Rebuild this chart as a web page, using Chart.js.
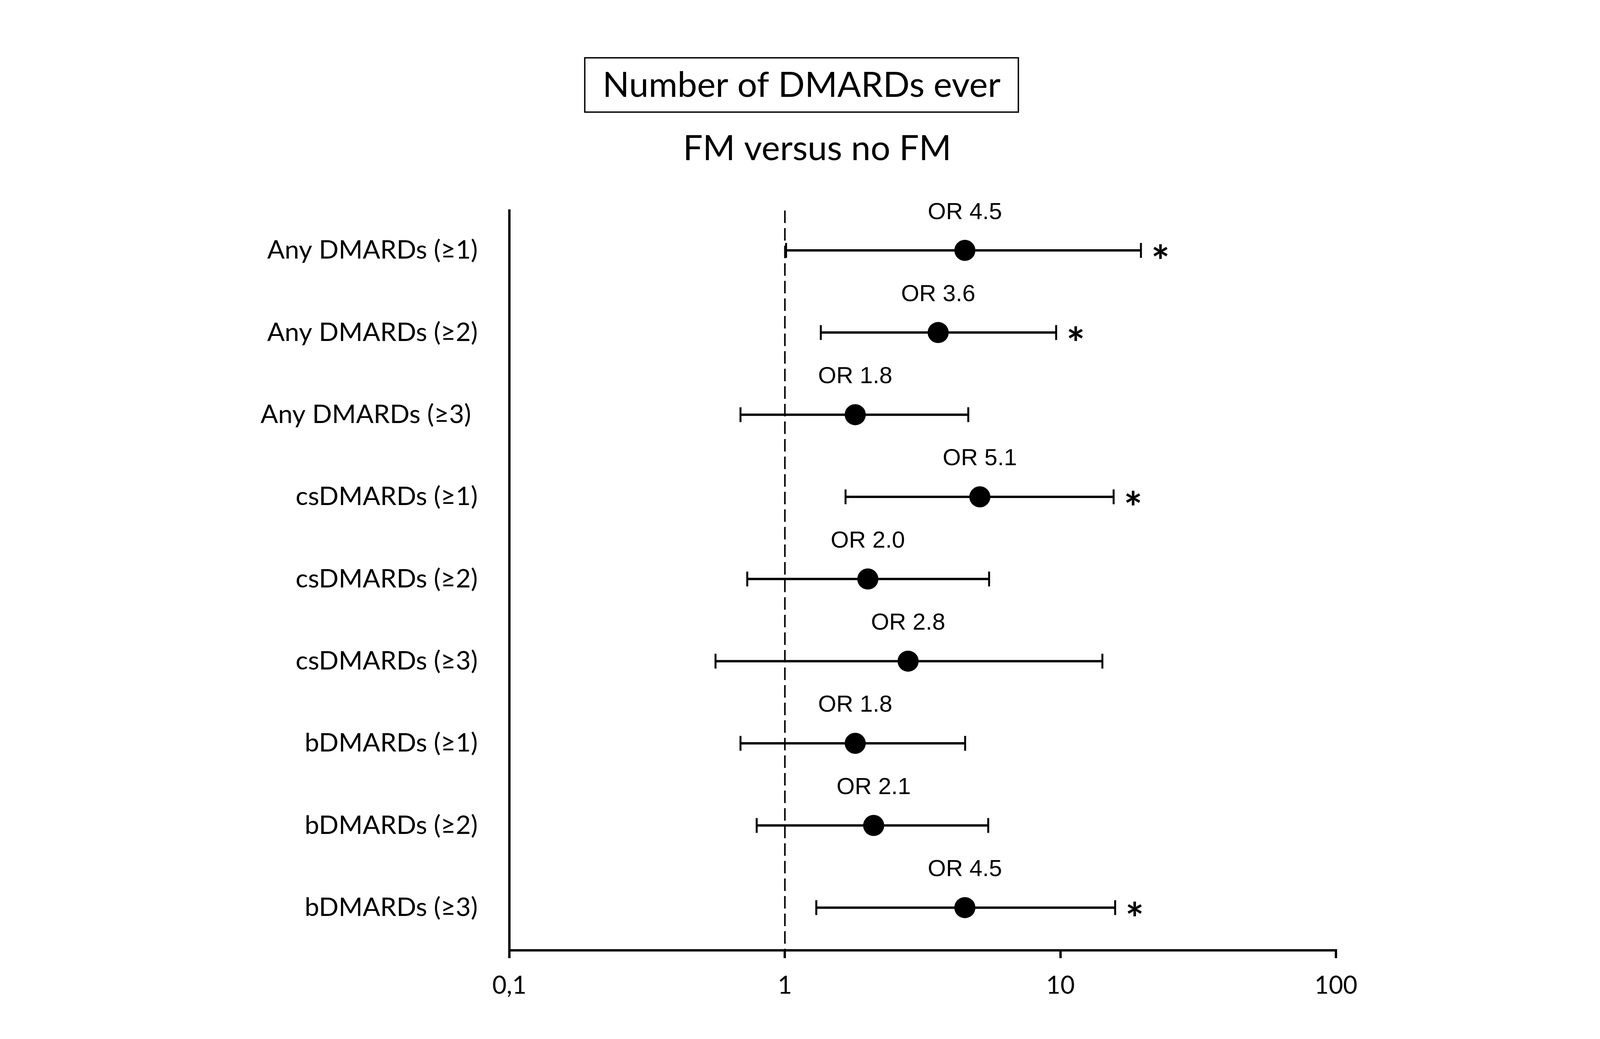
<!DOCTYPE html>
<html><head><meta charset="utf-8">
<script src="https://cdn.jsdelivr.net/npm/chart.js@4"></script>
<style>html,body{margin:0;padding:0;background:#fff;} #wrap{width:4208px;height:2660px;}</style>
</head><body><div id="wrap"><canvas id="c" width="4208" height="2660"></canvas></div>
<script>
const categories = ['Any DMARDs (≥1)','Any DMARDs (≥2)','Any DMARDs (≥3) ','csDMARDs (≥1)','csDMARDs (≥2)','csDMARDs (≥3)','bDMARDs (≥1)','bDMARDs (≥2)','bDMARDs (≥3)'];
const oddsRatio = [4.5, 3.6, 1.8, 5.1, 2.0, 2.8, 1.8, 2.1, 4.5];
const ciLower = [1.01, 1.35, 0.69, 1.66, 0.73, 0.56, 0.69, 0.79, 1.30];
const ciUpper = [19.6, 9.65, 4.63, 15.6, 5.51, 14.2, 4.51, 5.47, 15.8];
const significant = [true, true, false, true, false, false, false, false, true];
const xTicks = [0.1, 1, 10, 100];
const xTickLabels = ['0,1', '1', '10', '100'];
const referenceValue = 1;
const titleText = 'Number of DMARDs ever';
const subtitleText = 'FM versus no FM';

const SANS = 'Lato';
const mctx = document.createElement('canvas').getContext('2d');
function fitSize(text, family, target){ mctx.font = '100px ' + family; return 100 * target / mctx.measureText(text).width; }
const catSize = fitSize('Any DMARDs (≥1)', SANS, 539);
const tickSize = fitSize('100', SANS, 110);
const titleSize = fitSize(titleText, SANS, 1019);
const subSize = fitSize(subtitleText, SANS, 687);
const orSize = 60;

const yMin = 0.515, yMax = 9.52;
const datasets = [];
datasets.push({
  type: 'line', data: [{x: referenceValue, y: yMin}, {x: referenceValue, y: yMax}],
  borderColor: '#000', borderWidth: 4, borderDash: [32, 13], pointRadius: 0, order: 3
});
categories.forEach((c, i) => {
  datasets.push({
    type: 'line', data: [{x: ciLower[i], y: i + 1}, {x: ciUpper[i], y: i + 1}],
    borderColor: '#000', borderWidth: 6, pointStyle: 'line', pointRotation: 90,
    pointRadius: 19, pointBorderWidth: 5, pointBorderColor: '#000', pointBackgroundColor: '#000', order: 2
  });
});
datasets.push({
  type: 'scatter', data: oddsRatio.map((v, i) => ({x: v, y: i + 1})),
  pointRadius: 27, backgroundColor: '#000', borderColor: '#000', borderWidth: 0, order: 1
});

function drawCentered(ctx, text, x, cy){
  const m = ctx.measureText(text);
  ctx.fillText(text, x, cy + (m.actualBoundingBoxAscent - m.actualBoundingBoxDescent) / 2);
}

const annot = {
  id: 'annot',
  afterDatasetsDraw(chart){
    const {ctx, scales: {x, y}} = chart;
    ctx.save();
    ctx.fillStyle = '#000';
    ctx.textAlign = 'center';
    ctx.textBaseline = 'alphabetic';
    oddsRatio.forEach((v, i) => {
      const px = x.getPixelForValue(v), py = y.getPixelForValue(i + 1);
      ctx.font = orSize + 'px "Liberation Sans"';
      drawCentered(ctx, 'OR ' + v.toFixed(1), px, py - 101);
      if (significant[i]) {
        ctx.font = 'bold 112px ' + SANS;
        drawCentered(ctx, '*', x.getPixelForValue(ciUpper[i]) + 50, py + 3);
      }
    });
    ctx.font = titleSize + 'px ' + SANS;
    drawCentered(ctx, titleText, 2052, 215);
    ctx.lineWidth = 3.5;
    ctx.strokeStyle = '#000';
    ctx.strokeRect(1497, 148, 1110, 139);
    ctx.font = subSize + 'px ' + SANS;
    drawCentered(ctx, subtitleText, 2092, 378);
    ctx.restore();
  }
};

new Chart(document.getElementById('c'), {
  type: 'scatter',
  data: { datasets },
  plugins: [annot],
  options: {
    responsive: false, animation: false, devicePixelRatio: 1,
    layout: { padding: { left: 0, right: 788, top: 539, bottom: 0 } },
    plugins: { legend: { display: false }, tooltip: { enabled: false }, title: { display: false } },
    scales: {
      x: {
        type: 'logarithmic', position: 'bottom', min: 0.1, max: 100,
        afterBuildTicks: s => { s.ticks = xTicks.map(v => ({value: v})); },
        afterFit: s => { s.height = 227; },
        ticks: { callback: (v, i) => xTickLabels[i], color: '#000', font: { family: SANS, size: tickSize }, padding: 33, autoSkip: false, maxRotation: 0 },
        grid: { display: true, drawOnChartArea: false, drawTicks: true, tickLength: 20, lineWidth: 6, color: '#000' },
        border: { display: true, width: 6, color: '#000' }
      },
      y: {
        type: 'linear', reverse: true, min: yMin, max: yMax,
        afterBuildTicks: s => { s.ticks = categories.map((c, i) => ({value: i + 1})); },
        afterFit: s => { s.width = 1304; },
        ticks: { callback: (v, i) => categories[i], color: '#000', font: { family: SANS, size: catSize }, padding: 73, autoSkip: false },
        grid: { display: false },
        border: { display: true, width: 6, color: '#000' }
      }
    }
  }
});
</script>
</body></html>
